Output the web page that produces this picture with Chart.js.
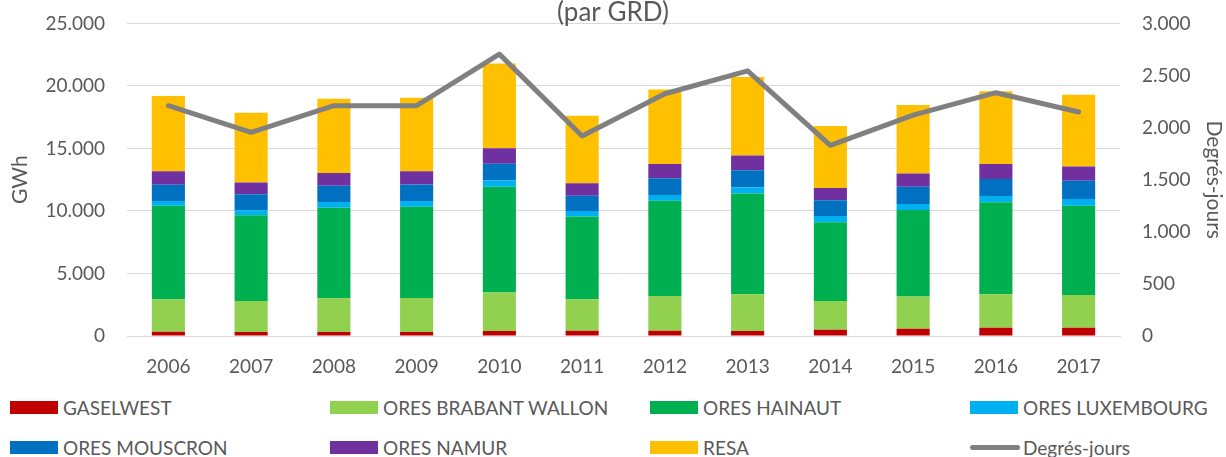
<!DOCTYPE html>
<html>
<head>
<meta charset="utf-8">
<script src="https://cdn.jsdelivr.net/npm/chart.js@4.4.1/dist/chart.umd.min.js"></script>
<style>
  html, body { margin: 0; padding: 0; background: #fff; }
  #wrap { position: relative; width: 1226px; height: 457px; overflow: hidden; font-family: Lato, sans-serif; }
  #chart { position: absolute; left: 0; top: -10px; }
  .leg { position: absolute; display: flex; align-items: center; height: 20px; font-size: 19px; color: #595959; white-space: nowrap; }
  .leg .box { width: 48px; height: 13px; margin-right: 5px; }
  .leg .ln { width: 50px; height: 5px; border-radius: 3px; margin-right: 3px; }
</style>
</head>
<body>
<div id="wrap">
  <canvas id="chart" width="1226" height="400"></canvas>
</div>
<script>
const years = ["2006", "2007", "2008", "2009", "2010", "2011", "2012", "2013", "2014", "2015", "2016", "2017"];

// GWh per GRD
const gaselwest = [340, 320, 320, 320, 400, 420, 420, 400, 500, 580, 660, 660];
const oresBrabantWallon = [2600, 2480, 2700, 2720, 3070, 2520, 2780, 2930, 2300, 2570, 2670, 2620];
const oresHainaut = [7480, 6860, 7240, 7300, 8460, 6610, 7620, 8070, 6300, 6930, 7360, 7140];
const oresLuxembourg = [380, 390, 450, 450, 530, 450, 450, 500, 500, 480, 500, 530];
const oresMouscron = [1300, 1280, 1300, 1330, 1320, 1210, 1350, 1350, 1250, 1370, 1370, 1460];
const oresNamur = [1070, 950, 1030, 1050, 1240, 1010, 1140, 1190, 980, 1060, 1190, 1140];
const resa = [6030, 5580, 5930, 5880, 6780, 5400, 5950, 6270, 4970, 5480, 5820, 5740];

const degresJours = [2210, 1955, 2210, 2210, 2705, 1920, 2325, 2545, 1830, 2120, 2335, 2150];

const textColor = "#595959";
const gridColor = "#d9d9d9";
const fontFamily = "Lato, sans-serif";

// 25000 -> "25.000"
const fmt = (v) => String(v).replace(/\B(?=(\d{3})+(?!\d))/g, ".");

const bar = (label, data, color) => ({
  type: "bar",
  label: label,
  data: data,
  backgroundColor: color,
  borderWidth: 0,
  yAxisID: "y",
  stack: "grd",
  order: 1,
  barPercentage: 0.5,
  categoryPercentage: 0.8,
});

const ctx = document.getElementById("chart");

const chart = new Chart(ctx, {
  data: {
    labels: years,
    datasets: [
      bar("GASELWEST", gaselwest, "#C00000"),
      bar("ORES BRABANT WALLON", oresBrabantWallon, "#92D050"),
      bar("ORES HAINAUT", oresHainaut, "#00B050"),
      bar("ORES LUXEMBOURG", oresLuxembourg, "#00B0F0"),
      bar("ORES MOUSCRON", oresMouscron, "#0070C0"),
      bar("ORES NAMUR", oresNamur, "#7030A0"),
      bar("RESA", resa, "#FFC000"),
      {
        type: "line",
        label: "Degrés-jours",
        data: degresJours,
        borderColor: "#808080",
        backgroundColor: "#808080",
        borderWidth: 5,
        borderCapStyle: "round",
        borderJoinStyle: "round",
        pointRadius: 0,
        tension: 0,
        yAxisID: "y1",
        order: 0,
      },
    ],
  },
  options: {
    responsive: false,
    animation: false,
    devicePixelRatio: 1,
    layout: { padding: 0 },
    plugins: {
      legend: { display: false },
      tooltip: { enabled: false },
      title: {
        display: true,
        text: "(par GRD)",
        color: textColor,
        font: { family: fontFamily, size: 26, weight: "normal", lineHeight: 0.8 },
        padding: { top: 11, bottom: 0 },
      },
    },
    scales: {
      x: {
        grid: { display: false },
        border: { display: true, color: gridColor, width: 1 },
        ticks: { color: textColor, font: { family: fontFamily, size: 19 }, padding: 11 },
        afterFit: (s) => { s.height = 54; },
      },
      y: {
        position: "left",
        stacked: true,
        min: 0,
        max: 25000,
        grid: { color: gridColor, drawTicks: false },
        border: { display: false },
        ticks: {
          stepSize: 5000,
          color: textColor,
          font: { family: fontFamily, size: 19 },
          padding: 22,
          callback: (v) => fmt(v),
        },
        title: {
          display: true,
          text: "GWh",
          color: textColor,
          font: { family: fontFamily, size: 21 },
          padding: { top: 8, bottom: 0 },
        },
        afterFit: (s) => { s.width = 127; },
      },
      y1: {
        position: "right",
        min: 0,
        max: 3000,
        grid: { drawOnChartArea: false, drawTicks: false },
        border: { display: false },
        ticks: {
          stepSize: 500,
          color: textColor,
          font: { family: fontFamily, size: 19 },
          padding: 22,
          callback: (v) => fmt(v),
        },
        title: {
          display: true,
          text: "Degrés-jours",
          color: textColor,
          font: { family: fontFamily, size: 21 },
          padding: { top: 0, bottom: 0 },
        },
        afterFit: (s) => { s.width = 106; },
      },
    },
  },
});

// legend in a 4-column grid below the chart, built from the chart's datasets
const wrap = document.getElementById("wrap");
chart.data.datasets.forEach((ds, i) => {
  const item = document.createElement("div");
  item.className = "leg";
  item.style.left = (10 + (i % 4) * 320) + "px";
  item.style.top = (i < 4 ? 397 : 437) + "px";
  const sw = document.createElement("span");
  sw.className = ds.type === "line" ? "ln" : "box";
  sw.style.background = ds.type === "line" ? ds.borderColor : ds.backgroundColor;
  const txt = document.createElement("span");
  txt.textContent = ds.label;
  item.appendChild(sw);
  item.appendChild(txt);
  wrap.appendChild(item);
});
</script>
</body>
</html>
